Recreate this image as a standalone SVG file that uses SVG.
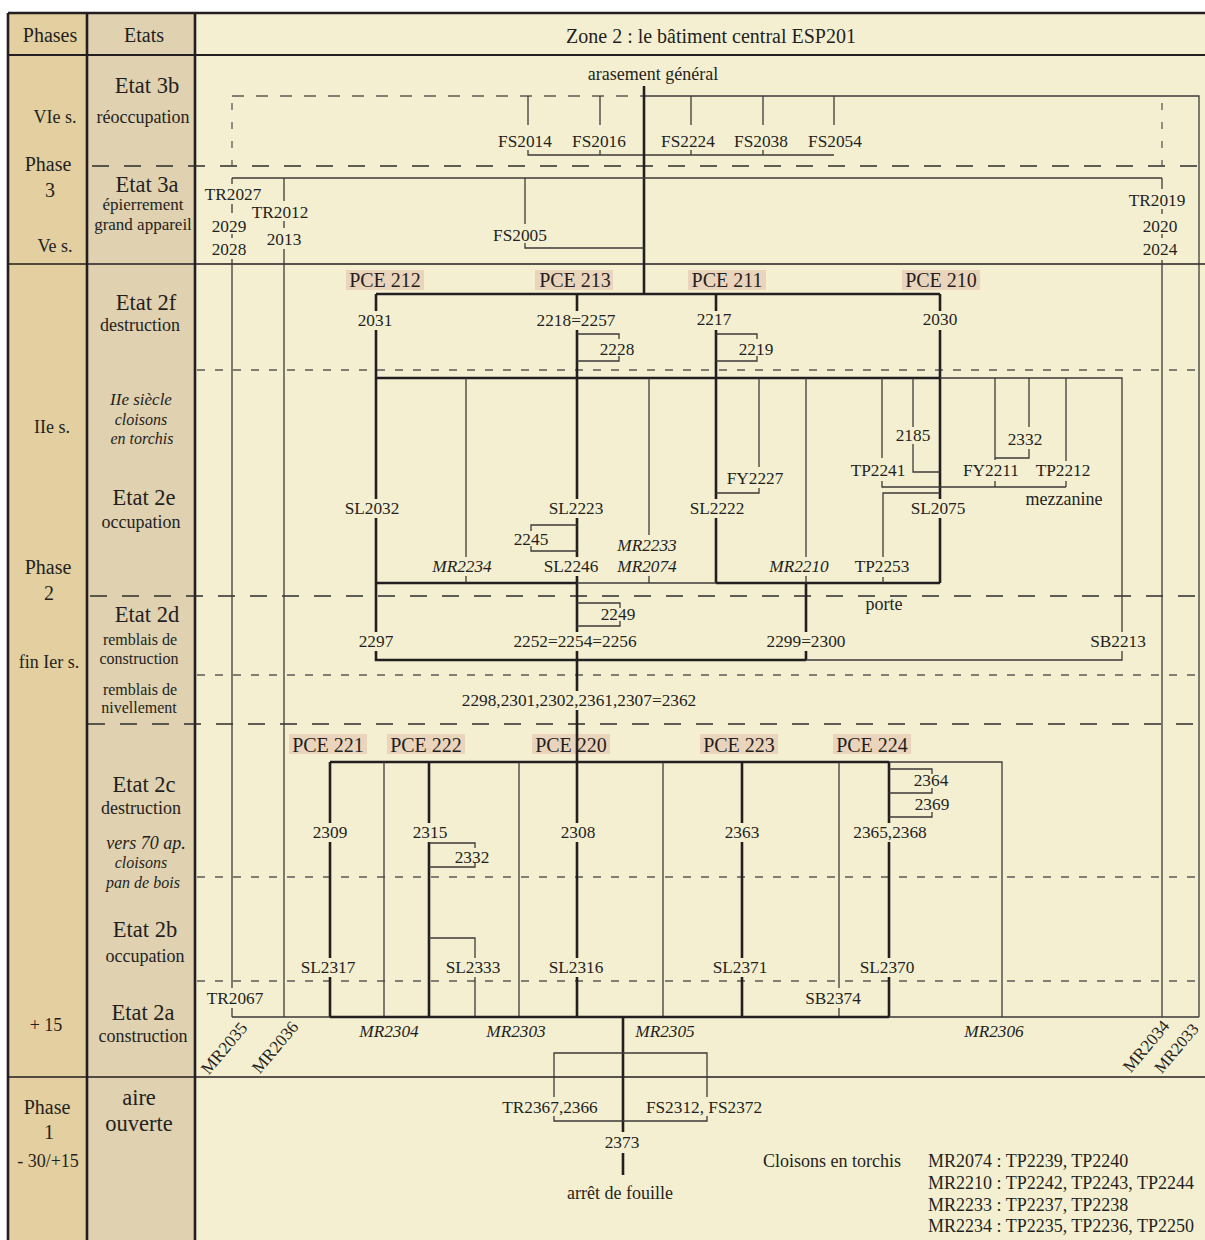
<svg xmlns="http://www.w3.org/2000/svg" width="1205" height="1240" viewBox="0 0 1205 1240">
<defs>
<style>
text{font-family:"Liberation Serif","Times New Roman",serif;fill:#231f20;text-anchor:middle}
.lb{font-size:17.3px}
.it{font-style:italic}
.pce{font-size:20px}
.hd{font-size:20px}
.et{font-size:22.5px}
.s18{font-size:18px}
.s17{font-size:17px}
.s16{font-size:16px}
.lg{font-size:18px;text-anchor:start}
.k{stroke:#231f20;stroke-width:2.6;fill:none}
.n{stroke:#3c3a38;stroke-width:1.3;fill:none}
.fr{stroke:#231f20;stroke-width:2.6;fill:none}
.dl{stroke:#2e2c2a;stroke-width:1.5;stroke-dasharray:17 15;fill:none}
.ds{stroke:#5a5856;stroke-width:1.3;stroke-dasharray:8 10;fill:none}
.db{stroke:#5a5856;stroke-width:1.3;stroke-dasharray:12 12;fill:none}
.dv{stroke:#5a5856;stroke-width:1.3;stroke-dasharray:7 12;stroke-dashoffset:12;fill:none}
.bg{fill:#ebd4bc}
</style>
</defs>
<g id="background">
<rect x="0" y="0" width="1205" height="1240" fill="#ffffff"/>
<rect x="8" y="13" width="79" height="1227" fill="#e3cf9f"/>
<rect x="87" y="13" width="108" height="1227" fill="#e0d1b0"/>
<rect x="195" y="13" width="1010" height="1227" fill="#f5efd2"/>
</g>
<g id="frame">
<path class="fr" d="M8,13V1240M87,13V1240M195,13V1240M8,13H1205"/>
<path stroke="#231f20" stroke-width="2" fill="none" d="M8,55H1205"/>
<path stroke="#231f20" stroke-width="1.6" fill="none" d="M8,264H1205M8,1077H1205"/>
<path class="dl" d="M92,166H1205M90,596H1205M88,724H1205"/>
<path class="ds" d="M197,370H1205M197,675H1205M197,877H1205M197,981H1205"/>
</g>
<g id="pce-backgrounds">
<rect class="bg" x="346" y="270" width="78" height="20"/>
<rect class="bg" x="535" y="270" width="78" height="20"/>
<rect class="bg" x="688" y="270" width="78" height="20"/>
<rect class="bg" x="902" y="270" width="78" height="20"/>
<rect class="bg" x="289" y="734" width="78" height="20"/>
<rect class="bg" x="387" y="734" width="78" height="20"/>
<rect class="bg" x="532" y="734" width="78" height="20"/>
<rect class="bg" x="700" y="734" width="78" height="20"/>
<rect class="bg" x="833" y="734" width="78" height="20"/>
</g>
<g id="connectors">
<path class="db" d="M232,96H644"/>
<path class="n" d="M644,96H1199V1017"/>
<path class="dv" d="M232,96V178M1162,96V178"/>
<path class="n" d="M528,96V125M600,96V125M691,96V125M763,96V125M834,96V125M528,150V155H834M600,150V155M691,150V155M763,150V155"/>
<path class="k" d="M644,86V294"/>
<path class="n" d="M232,178H1162"/>
<path class="n" d="M232,178V184M232,204V213M232,234V238M232,259V988M232,1008V1017"/>
<path class="n" d="M284,178V201M284,221V228M284,249V1017"/>
<path class="n" d="M525,178V224M525,243V248H644"/>
<path class="n" d="M1162,178V189M1162,209V214M1162,234V238M1162,260V1017"/>
<path class="k" d="M376,294H940"/>
<path class="k" d="M376,294V311M376,330V499M376,518V632M376,651V660H806"/>
<path class="k" d="M806,583V632M806,651V660"/>
<path class="k" d="M577,294V311M577,330V499M577,518V557M577,576V632M577,651V691M577,710V823M577,842V958M577,977V1017"/>
<path class="k" d="M716,294V311M716,330V499M716,518V583M940,294V311M940,330V499M940,518V583"/>
<path class="n" d="M577,334H619V339M577,361H619V356M716,334H757V339M716,361H757V356"/>
<path class="k" d="M376,378H940"/>
<path class="n" d="M940,378H1122V632M1122,651V660H806"/>
<path class="k" d="M376,583H577M716,583H940"/>
<path class="n" d="M577,583H716"/>
<path class="n" d="M466,378V557M466,576V583"/>
<path class="n" d="M649,378V535M649,576V583"/>
<path class="n" d="M759,378V467M759,488V493H716"/>
<path class="n" d="M806,378V557M806,576V583"/>
<path class="n" d="M882,378V458M882,481V487H1066"/>
<path class="n" d="M940,493H883V557M883,577V583"/>
<path class="n" d="M913,378V427M913,444V472H940"/>
<path class="n" d="M995,378V460M995,481V487"/>
<path class="n" d="M1029,378V427M1029,449V458H995"/>
<path class="n" d="M1066,378V461M1066,481V487"/>
<path class="n" d="M577,525H531V531M577,551H531V546"/>
<path class="n" d="M577,603H620V608M577,626H620V621"/>
<path class="k" d="M330,762H889"/>
<path class="n" d="M889,762H1002V1017"/>
<path class="k" d="M330,762V823M330,842V958M330,977V1017"/>
<path class="k" d="M429,762V823M429,842V1017"/>
<path class="k" d="M742,762V823M742,842V958M742,977V1017"/>
<path class="k" d="M889,762V823M889,842V958M889,977V1017"/>
<path class="n" d="M384,762V1017M519,762V1017M663,762V1017M839,762V988M839,1008V1017"/>
<path class="n" d="M429,843H475V848M429,867H475V862"/>
<path class="n" d="M429,938H475V958M475,977V1017"/>
<path class="n" d="M889,769H932V774M889,793H932V788M889,817H932V812"/>
<path class="n" d="M232,1017H330M889,1017H1199"/>
<path class="k" d="M330,1017H889"/>
<path class="k" d="M623,1017V1132M623,1153V1175"/>
<path class="n" d="M554,1097V1053H707V1097M554,1116V1121H707V1116"/>
</g>
<g id="header">
<text class="hd" x="50" y="42">Phases</text>
<text class="hd" x="144" y="42">Etats</text>
<text class="hd" x="711" y="43">Zone 2 : le bâtiment central ESP201</text>
</g>
<g id="phases">
<text class="s18" x="55" y="123">VIe s.</text>
<text class="hd" x="48" y="171">Phase</text>
<text class="hd" x="50" y="197">3</text>
<text class="s18" x="55" y="252">Ve s.</text>
<text class="s18" x="52" y="433">IIe s.</text>
<text class="hd" x="48" y="574">Phase</text>
<text class="hd" x="49" y="600">2</text>
<text class="s18" x="49" y="668">fin Ier s.</text>
<text class="s18" x="46" y="1031">+ 15</text>
<text class="hd" x="47" y="1114">Phase</text>
<text class="hd" x="49" y="1139">1</text>
<text class="s18" x="48" y="1167">- 30/+15</text>
</g>
<g id="etats">
<text class="et" x="147" y="93">Etat 3b</text>
<text class="s18" x="143" y="123">réoccupation</text>
<text class="et" x="147" y="192">Etat 3a</text>
<text class="s17" x="143" y="210">épierrement</text>
<text class="s17" x="143" y="230">grand appareil</text>
<text class="et" x="146" y="310">Etat 2f</text>
<text class="s18" x="140" y="331">destruction</text>
<text class="s17 it" x="141" y="405">IIe siècle</text>
<text class="s16 it" x="141" y="425">cloisons</text>
<text class="s16 it" x="142" y="444">en torchis</text>
<text class="et" x="144" y="505">Etat 2e</text>
<text class="s18" x="141" y="528">occupation</text>
<text class="et" x="147" y="622">Etat 2d</text>
<text class="s16" x="140" y="645">remblais de</text>
<text class="s16" x="139" y="664">construction</text>
<text class="s16" x="140" y="695">remblais de</text>
<text class="s16" x="139" y="713">nivellement</text>
<text class="et" x="144" y="792">Etat 2c</text>
<text class="s18" x="141" y="814">destruction</text>
<text class="s18 it" x="146" y="849">vers 70 ap.</text>
<text class="s16 it" x="141" y="868">cloisons</text>
<text class="s16 it" x="143" y="888">pan de bois</text>
<text class="et" x="145" y="937">Etat 2b</text>
<text class="s18" x="145" y="962">occupation</text>
<text class="et" x="143" y="1020">Etat 2a</text>
<text class="s18" x="143" y="1042">construction</text>
<text class="et" x="139" y="1105">aire</text>
<text class="et" x="139" y="1131">ouverte</text>
</g>
<g id="n-arasement"><text class="s18" x="653" y="80">arasement général</text></g>
<g id="n-FS2014"><text class="lb" x="525" y="147">FS2014</text></g>
<g id="n-FS2016"><text class="lb" x="599" y="147">FS2016</text></g>
<g id="n-FS2224"><text class="lb" x="688" y="147">FS2224</text></g>
<g id="n-FS2038"><text class="lb" x="761" y="147">FS2038</text></g>
<g id="n-FS2054"><text class="lb" x="835" y="147">FS2054</text></g>
<g id="n-TR2027"><text class="lb" x="233" y="200">TR2027</text><text class="lb" x="229" y="232">2029</text><text class="lb" x="229" y="255">2028</text></g>
<g id="n-TR2012"><text class="lb" x="280" y="218">TR2012</text><text class="lb" x="284" y="245">2013</text></g>
<g id="n-FS2005"><text class="lb" x="520" y="241">FS2005</text></g>
<g id="n-TR2019"><text class="lb" x="1157" y="206">TR2019</text><text class="lb" x="1160" y="232">2020</text><text class="lb" x="1160" y="255">2024</text></g>
<g id="n-PCE212"><text class="pce" x="385" y="287">PCE 212</text></g>
<g id="n-PCE213"><text class="pce" x="575" y="287">PCE 213</text></g>
<g id="n-PCE211"><text class="pce" x="727" y="287">PCE 211</text></g>
<g id="n-PCE210"><text class="pce" x="941" y="287">PCE 210</text></g>
<g id="n-2031"><text class="lb" x="375" y="326">2031</text></g>
<g id="n-2218"><text class="lb" x="576" y="326">2218=2257</text></g>
<g id="n-2217"><text class="lb" x="714" y="325">2217</text></g>
<g id="n-2030"><text class="lb" x="940" y="325">2030</text></g>
<g id="n-2228"><text class="lb" x="617" y="355">2228</text></g>
<g id="n-2219"><text class="lb" x="756" y="355">2219</text></g>
<g id="n-SL2032"><text class="lb" x="372" y="514">SL2032</text></g>
<g id="n-SL2223"><text class="lb" x="576" y="514">SL2223</text></g>
<g id="n-SL2222"><text class="lb" x="717" y="514">SL2222</text></g>
<g id="n-SL2075"><text class="lb" x="938" y="514">SL2075</text></g>
<g id="n-FY2227"><text class="lb" x="755" y="484">FY2227</text></g>
<g id="n-2245"><text class="lb" x="531" y="545">2245</text></g>
<g id="n-MR2234"><text class="lb it" x="462" y="572">MR2234</text></g>
<g id="n-SL2246"><text class="lb" x="571" y="572">SL2246</text></g>
<g id="n-MR2233"><text class="lb it" x="647" y="551">MR2233</text><text class="lb it" x="647" y="572">MR2074</text></g>
<g id="n-MR2210"><text class="lb it" x="799" y="572">MR2210</text></g>
<g id="n-TP2253"><text class="lb" x="882" y="572">TP2253</text></g>
<g id="n-TP2241"><text class="lb" x="878" y="476">TP2241</text></g>
<g id="n-2185"><text class="lb" x="913" y="441">2185</text></g>
<g id="n-2332a"><text class="lb" x="1025" y="445">2332</text></g>
<g id="n-FY2211"><text class="lb" x="991" y="476">FY2211</text></g>
<g id="n-TP2212"><text class="lb" x="1063" y="476">TP2212</text></g>
<g id="n-mezzanine"><text class="s18" x="1064" y="505">mezzanine</text></g>
<g id="n-porte"><text class="s18" x="884" y="610">porte</text></g>
<g id="n-2249"><text class="lb" x="618" y="620">2249</text></g>
<g id="n-2297"><text class="lb" x="376" y="647">2297</text></g>
<g id="n-2252"><text class="lb" x="575" y="647">2252=2254=2256</text></g>
<g id="n-2299"><text class="lb" x="806" y="647">2299=2300</text></g>
<g id="n-SB2213"><text class="lb" x="1118" y="647">SB2213</text></g>
<g id="n-2298"><text class="lb" x="579" y="706">2298,2301,2302,2361,2307=2362</text></g>
<g id="n-PCE221"><text class="pce" x="328" y="752">PCE 221</text></g>
<g id="n-PCE222"><text class="pce" x="426" y="752">PCE 222</text></g>
<g id="n-PCE220"><text class="pce" x="571" y="752">PCE 220</text></g>
<g id="n-PCE223"><text class="pce" x="739" y="752">PCE 223</text></g>
<g id="n-PCE224"><text class="pce" x="872" y="752">PCE 224</text></g>
<g id="n-2309"><text class="lb" x="330" y="838">2309</text></g>
<g id="n-2315"><text class="lb" x="430" y="838">2315</text></g>
<g id="n-2308"><text class="lb" x="578" y="838">2308</text></g>
<g id="n-2363"><text class="lb" x="742" y="838">2363</text></g>
<g id="n-2365"><text class="lb" x="890" y="838">2365,2368</text></g>
<g id="n-2364"><text class="lb" x="931" y="786">2364</text></g>
<g id="n-2369"><text class="lb" x="932" y="810">2369</text></g>
<g id="n-2332b"><text class="lb" x="472" y="863">2332</text></g>
<g id="n-SL2317"><text class="lb" x="328" y="973">SL2317</text></g>
<g id="n-SL2333"><text class="lb" x="473" y="973">SL2333</text></g>
<g id="n-SL2316"><text class="lb" x="576" y="973">SL2316</text></g>
<g id="n-SL2371"><text class="lb" x="740" y="973">SL2371</text></g>
<g id="n-SL2370"><text class="lb" x="887" y="973">SL2370</text></g>
<g id="n-TR2067"><text class="lb" x="235" y="1004">TR2067</text></g>
<g id="n-SB2374"><text class="lb" x="833" y="1004">SB2374</text></g>
<g id="n-MR2304"><text class="lb it" x="389" y="1037">MR2304</text></g>
<g id="n-MR2303"><text class="lb it" x="516" y="1037">MR2303</text></g>
<g id="n-MR2305"><text class="lb it" x="665" y="1037">MR2305</text></g>
<g id="n-MR2306"><text class="lb it" x="994" y="1037">MR2306</text></g>
<g id="n-MR2035"><text class="lb" transform="translate(224,1048) rotate(-50)" x="0" y="6">MR2035</text></g>
<g id="n-MR2036"><text class="lb" transform="translate(275,1047) rotate(-50)" x="0" y="6">MR2036</text></g>
<g id="n-MR2034"><text class="lb" transform="translate(1146,1046) rotate(-50)" x="0" y="6">MR2034</text></g>
<g id="n-MR2033"><text class="lb" transform="translate(1176,1048) rotate(-50)" x="0" y="6" style="font-size:16.5px">MR2033</text></g>
<g id="n-TR2367"><text class="lb" x="550" y="1113">TR2367,2366</text></g>
<g id="n-FS2312"><text class="lb" x="704" y="1113">FS2312, FS2372</text></g>
<g id="n-2373"><text class="lb" x="622" y="1148">2373</text></g>
<g id="n-arret"><text class="s18" x="620" y="1199">arrêt de fouille</text></g>
<g id="legend">
<text class="lg" x="763" y="1167">Cloisons en torchis</text>
<text class="lg" x="928" y="1167">MR2074 : TP2239, TP2240</text>
<text class="lg" x="928" y="1189">MR2210 : TP2242, TP2243, TP2244</text>
<text class="lg" x="928" y="1211">MR2233 : TP2237, TP2238</text>
<text class="lg" x="928" y="1232">MR2234 : TP2235, TP2236, TP2250</text>
</g>
</svg>
